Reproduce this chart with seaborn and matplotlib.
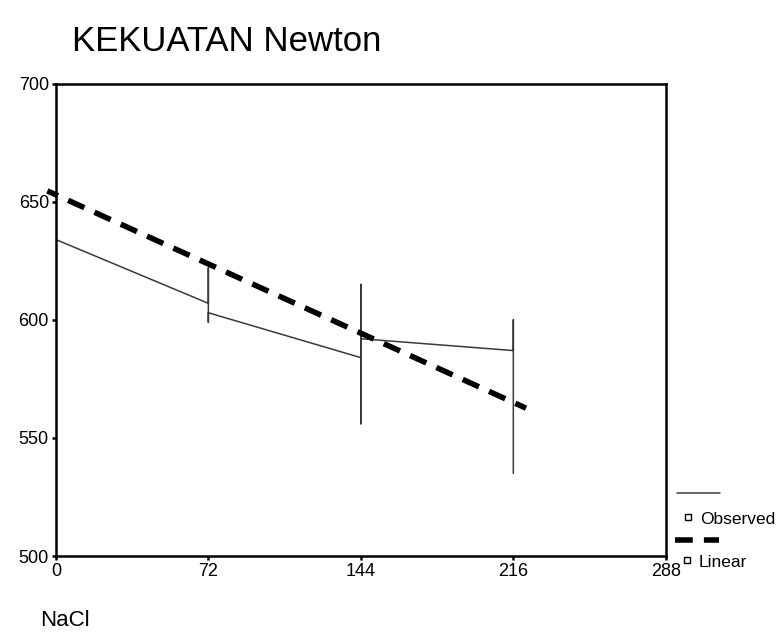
import matplotlib
matplotlib.use("Agg")
import matplotlib.pyplot as plt
import seaborn as sns
import pandas as pd
from matplotlib.lines import Line2D

sns.set_style("ticks")
plt.rcParams['font.family'] = ['Liberation Sans', 'DejaVu Sans']
plt.rcParams['text.color'] = 'black'
plt.rcParams['xtick.color'] = 'black'
plt.rcParams['ytick.color'] = 'black'

# Observed values (connected in data order, SPSS curve-fit style)
obs_x = [0, 72, 72, 72, 72, 144, 144, 144, 144, 216, 216, 216]
obs_y = [634, 607, 622, 599, 603, 584, 615, 556, 592, 587, 600, 535]

# Linear fit line
lin_x = [-4, 222]
lin_y = [654.6, 562.6]

x_ticks = [0, 72, 144, 216, 288]
y_ticks = [500, 550, 600, 650, 700]

obs = pd.DataFrame({"NaCl": obs_x, "Newton": obs_y})
lin = pd.DataFrame({"NaCl": lin_x, "Newton": lin_y})

fig = plt.figure(figsize=(7.76, 6.34), dpi=100)
ax = fig.add_axes([0.072, 0.123, 0.786, 0.745])

sns.lineplot(data=obs, x="NaCl", y="Newton", sort=False, estimator=None,
             color="#3a3a3a", linewidth=1.1, ax=ax)
sns.lineplot(data=lin, x="NaCl", y="Newton", sort=False, estimator=None,
             color="black", linewidth=4.0, ax=ax)
dl = ax.lines[-1]
dl.set_linestyle((1.1, (3.2, 2.0)))
dl.set_dash_capstyle("butt")
dl.set_clip_on(False)

ax.set_xlim(0, 288)
ax.set_ylim(500, 700)
ax.set_xticks(x_ticks)
ax.set_yticks(y_ticks)
ax.set_xticklabels([str(t) for t in x_ticks], fontsize=13)
ax.set_yticklabels([str(t) for t in y_ticks], fontsize=13)
ax.tick_params(direction="out", length=3, width=1.8, pad=2)
ax.set_xlabel("")
ax.set_ylabel("")
for s in ax.spines.values():
    s.set_visible(True)
    s.set_linewidth(1.8)
    s.set_color("black")

fig.text(0.093, 0.935, "KEKUATAN Newton", fontsize=25, ha="left", va="center")
fig.text(0.052, 0.022, "NaCl", fontsize=16, ha="left", va="center")

# Legend (SPSS style, below right)
fig.add_artist(Line2D([0.872, 0.928], [0.222, 0.222], color="#3a3a3a", linewidth=1.1))
fig.add_artist(Line2D([0.887], [0.185], marker="s", markersize=5, fillstyle="none",
                      markeredgecolor="black", markeredgewidth=1.0, linestyle="none"))
fig.text(0.902, 0.181, "Observed", fontsize=12.5, ha="left", va="center")
fig.add_artist(Line2D([0.870, 0.926], [0.148, 0.148], color="black", linewidth=4.0,
                      linestyle=(0, (3.2, 2.0)), dash_capstyle="butt"))
fig.add_artist(Line2D([0.885], [0.116], marker="s", markersize=5, fillstyle="none",
                      markeredgecolor="black", markeredgewidth=1.0, linestyle="none"))
fig.text(0.900, 0.112, "Linear", fontsize=12.5, ha="left", va="center")

fig.savefig("out.png", dpi=100)
